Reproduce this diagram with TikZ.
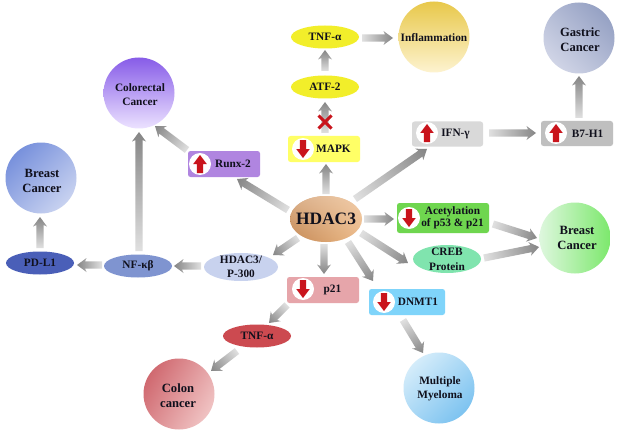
\documentclass[tikz,border=0pt]{standalone}
\usepackage{fontspec}
\setmainfont{Liberation Serif}
\usetikzlibrary{shapes.geometric,calc,fadings}
\definecolor{headg}{HTML}{858585}
\definecolor{tailg}{HTML}{E0E0E0}
\definecolor{redar}{HTML}{C9141C}
\definecolor{ink}{HTML}{10101C}
\definecolor{inflA}{HTML}{E8C84A}\definecolor{inflB}{HTML}{FDF3D0}
\definecolor{gasA}{HTML}{96A2C4}\definecolor{gasB}{HTML}{D0D4E6}
\definecolor{colrA}{HTML}{875CE8}\definecolor{colrB}{HTML}{ECE2FF}
\definecolor{blA}{HTML}{7891DC}\definecolor{blB}{HTML}{C8D2F0}
\definecolor{colnA}{HTML}{D06970}\definecolor{colnB}{HTML}{F0C3C3}
\definecolor{mmA}{HTML}{D4ECFA}\definecolor{mmB}{HTML}{7DC3F0}
\definecolor{brA}{HTML}{DEF7DE}\definecolor{brB}{HTML}{7CE86C}
\definecolor{yel}{HTML}{F2EE2A}
\definecolor{hdA}{HTML}{B0621E}\definecolor{hdB}{HTML}{E8A868}\definecolor{hdC}{HTML}{F8E6D6}
\definecolor{crebc}{HTML}{80E4AE}
\definecolor{tnfc}{HTML}{CC4A50}
\definecolor{pthc}{HTML}{C8D2EE}
\definecolor{nfc}{HTML}{7F94D0}
\definecolor{pdc}{HTML}{4A5FB8}
\definecolor{mapkc}{HTML}{FFFF66}
\definecolor{ifnc}{HTML}{D9D9D9}
\definecolor{bsc}{HTML}{BFBFBF}
\definecolor{runxc}{HTML}{B085E0}
\definecolor{acetc}{HTML}{6FD64F}
\definecolor{ptwc}{HTML}{E6A5AA}
\definecolor{dnmtc}{HTML}{7FD4FA}
\tikzfading[name=hdfade,top color=transparent!40,middle color=transparent!100,bottom color=transparent!70]
\tikzset{
  txt/.style={font=\bfseries\fontsize{11.3}{14}\selectfont,text=ink,align=center,inner sep=0pt},
  txtb/.style={font=\bfseries\fontsize{12.6}{15}\selectfont,text=ink,align=center,inner sep=0pt},
  disc/.style={circle,minimum size=71pt,inner sep=0pt,outer sep=0pt,draw=none},
  oval/.style={ellipse,minimum width=68pt,minimum height=23pt,inner sep=0pt,outer sep=0pt,draw=none},
  tag/.style={rectangle,rounded corners=2.5pt,inner sep=0pt,outer sep=0pt,draw=none},
  badge/.style={circle,fill=white,minimum size=22pt,inner sep=0pt,outer sep=0pt},
}
\newcommand\conn[4]{%
  \coordinate (ct) at ($(#1)+(#2)$);
  \coordinate (ch) at ($(#3)+(#4)$);
  \pgfpointdiff{\pgfpointanchor{ct}{center}}{\pgfpointanchor{ch}{center}}%
  \pgfgetlastxy{\dxx}{\dyy}%
  \pgfmathsetmacro\cang{atan2(\dyy,\dxx)}%
  \pgfmathsetmacro\clen{veclen(\dxx,\dyy)}%
  \path[transform canvas={shift={(ct)},rotate=\cang},left color=tailg,right color=headg]
    (0,-3.6) -- ({\clen-8},-3.6) -- ({\clen-9.5},-7) -- (\clen,0) -- ({\clen-9.5},7) -- ({\clen-8},3.6) -- (0,3.6) -- cycle;
}
\newcommand\badgeup[2]{%
  \node[badge] (#1) at #2 {};
  \fill[redar] ($(#1)+(-3.2,9)$) -- ($(#1)+(-3.2,0)$) -- ($(#1)+(-6.8,0)$) -- ($(#1)+(0,-9)$) -- ($(#1)+(6.8,0)$) -- ($(#1)+(3.2,0)$) -- ($(#1)+(3.2,9)$) -- cycle;
}
\newcommand\badgedown[2]{%
  \node[badge] (#1) at #2 {};
  \fill[redar] ($(#1)+(-3.2,-9)$) -- ($(#1)+(-3.2,0)$) -- ($(#1)+(-6.8,0)$) -- ($(#1)+(0,9)$) -- ($(#1)+(6.8,0)$) -- ($(#1)+(3.2,0)$) -- ($(#1)+(3.2,-9)$) -- cycle;
}
\begin{document}
\begin{tikzpicture}[x=1pt,y=-1pt]
\useasboundingbox[fill=white] (0,0) rectangle (618,433);
% discs
\node[disc,top color=inflA,bottom color=inflB,label={[txt,yshift=-1pt]center:Inflammation}] (infl) at (434,37) {};
\node[disc,top color=gasA,bottom color=gasB,shading angle=-45,label={[txtb,xshift=1pt,yshift=-1.7pt]center:Gastric\\Cancer}] (gastric) at (579,38) {};
\node[disc,top color=colrA,bottom color=colrB,label={[txt,xshift=1pt,yshift=-2pt]center:Colorectal\\Cancer}] (colorectal) at (139,93) {};
\node[disc,top color=blA,bottom color=blB,shading angle=45,label={[txtb,xshift=1pt,yshift=-2.5pt]center:Breast\\Cancer}] (bl) at (41,178) {};
\node[disc,top color=colnA,bottom color=colnB,shading angle=60,label={[txtb,xshift=-1pt,yshift=-1.5pt]center:Colon\\cancer}] (colon) at (179,394) {};
\node[disc,top color=mmA,bottom color=mmB,shading angle=45,label={[txt,xshift=1pt,yshift=-1pt]center:Multiple\\Myeloma}] (mm) at (439,388) {};
\node[disc,top color=brA,bottom color=brB,shading angle=90,label={[txtb,xshift=2pt]center:Breast\\Cancer}] (br) at (575,238) {};
% ovals
\node[oval,fill=yel,label={[txt]center:TNF-α}] (tnfa) at (325,37) {};
\node[oval,fill=yel,label={[txt]center:ATF-2}] (atf) at (325,87) {};
\coordinate (hdc) at (326,219);
\path[left color=hdA,right color=hdB] (hdc) ellipse [x radius=36,y radius=23];
\fill[hdC,path fading=hdfade] (hdc) ellipse [x radius=36,y radius=23];
\node[oval,minimum width=72pt,minimum height=46pt,label={[font=\bfseries\fontsize{17.4}{20}\selectfont,text=ink,inner sep=0pt]center:HDAC3}] (hd) at (hdc) {};
\node[oval,minimum height=28pt,fill=crebc,label={[txt,font=\bfseries\fontsize{11.3}{15}\selectfont]center:CREB\\Protein}] (creb) at (447,259) {};
\node[oval,fill=tnfc,label={[txt]center:TNF-α}] (tnfb) at (257,336) {};
\node[oval,minimum width=74pt,minimum height=28pt,fill=pthc,label={[txt]center:HDAC3/\\P-300}] (p300) at (241,267) {};
\node[oval,fill=nfc,label={[txt]center:NF-κβ}] (nf) at (138,266) {};
\node[oval,fill=pdc,label={[txt]center:PD-L1}] (pdl) at (40,263) {};
% tags
\node[tag,minimum width=72pt,minimum height=26pt,fill=mapkc,label={[txt,xshift=9.5pt]center:MAPK}] (mapk) at (324,149) {};
\node[tag,minimum width=71pt,minimum height=25pt,fill=ifnc,label={[txt,xshift=8pt]center:IFN-γ}] (ifn) at (447.5,134) {};
\node[tag,minimum width=72pt,minimum height=25pt,fill=bsc,label={[txt,xshift=10.5pt]center:B7-H1}] (b7) at (577,133.5) {};
\node[tag,minimum width=72pt,minimum height=26pt,fill=runxc,label={[txt,xshift=9pt]center:Runx-2}] (runx) at (224,164) {};
\node[tag,minimum width=92pt,minimum height=30pt,fill=acetc,label={[txt,font=\bfseries\fontsize{11.3}{12.5}\selectfont,xshift=9.5pt]center:Acetylation\\of p53 \& p21}] (acet) at (443,218) {};
\node[tag,minimum width=72pt,minimum height=26pt,fill=ptwc,label={[txt,xshift=9.5pt]center:p21}] (p21) at (323,290) {};
\node[tag,minimum width=76pt,minimum height=26pt,fill=dnmtc,label={[txt,xshift=11pt]center:DNMT1}] (dnmt) at (407,302) {};
% badges
\badgedown{bmapk}{(303,149)}
\badgeup{bifn}{(427,133)}
\badgeup{bbseven}{(556,133)}
\badgeup{brunx}{(200,164)}
\badgedown{bacet}{(409,218)}
\badgedown{bptwo}{(303,289)}
\badgedown{bdnmt}{(384,302)}
% connectors
\conn{hd}{0,-25}{mapk}{2,15}
\conn{hd}{29,-20}{ifn}{-20.5,15}
\conn{ifn}{41.5,-1}{b7}{-41,-0.5}
\conn{b7}{2,-15.5}{gastric}{0,38}
\conn{mapk}{1,-16}{atf}{0,15}
\conn{atf}{0,-16}{tnfa}{0,13}
\conn{tnfa}{37,1}{infl}{-41,1}
\conn{hd}{-38,-9}{runx}{13,15}
\conn{runx}{-37,-14}{colorectal}{16,33}
\conn{nf}{1,-15}{colorectal}{0,39}
\conn{nf}{-36,-1}{pdl}{37,2}
\conn{pdl}{0,-15}{bl}{-1,39}
\conn{p300}{-40,-1}{nf}{36,0}
\conn{hd}{-28,19}{p300}{32,-12}
\conn{hd}{-2,25}{p21}{1,-16}
\conn{hd}{22,23}{dnmt}{-34,-21}
\conn{hd}{35,14}{creb}{-39,4}
\conn{hd}{38,0}{acet}{-49,1}
\conn{acet}{50,6}{br}{-38,0}
\conn{creb}{37,-1}{br}{-36,9}
\conn{p21}{-36,15}{tnfb}{12,-13}
\conn{tnfb}{-20,15}{colon}{32,-23}
\conn{dnmt}{-4,18}{mm}{-16,-35}
% block mark on MAPK to ATF-2
\coordinate (xm) at (325,122);
\draw[redar,line width=3pt] ($(xm)+(-6.5,-6.5)$) -- ($(xm)+(6.5,6.5)$) ($(xm)+(-6.5,6.5)$) -- ($(xm)+(6.5,-6.5)$);
\end{tikzpicture}
\end{document}
